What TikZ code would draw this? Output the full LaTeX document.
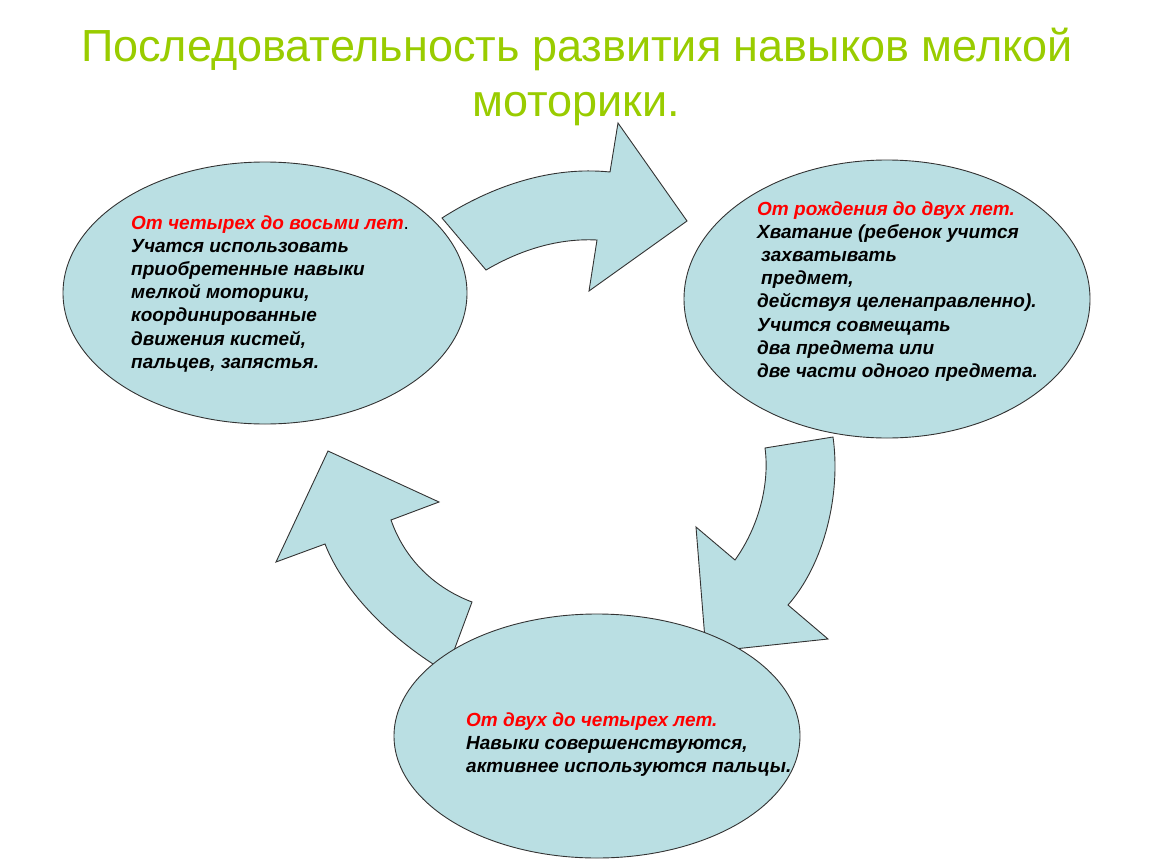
\documentclass[tikz,border=0pt]{standalone}
\usepackage{fontspec}
\usetikzlibrary{shapes.geometric}
\setmainfont{Liberation Sans}
\definecolor{fillblue}{RGB}{186,223,227}
\definecolor{titlegreen}{RGB}{153,204,0}
\definecolor{textred}{RGB}{255,0,0}
\tikzset{
  blob/.style={draw=black!80, line width=0.9pt, fill=fillblue, ellipse, inner sep=0pt, outer sep=0pt},
  bigarrow/.style={draw=black!80, line width=0.9pt, fill=fillblue, line join=miter},
  bodytext/.style={anchor=base west, inner sep=0pt, font=\fontsize{19}{23.2}\selectfont\bfseries\itshape},
  titletext/.style={anchor=base, inner sep=0pt, text=titlegreen, font=\fontsize{45}{55}\selectfont}
}
\begin{document}
\begin{tikzpicture}[x=1pt,y=-1pt]
\useasboundingbox (0,0) rectangle (1150,864);
% title
\node[titletext] (title1) at (577,62) {Последовательность развития навыков мелкой};
\node[titletext] (title2) at (576,117) {моторики.};
% arrows (drawn beneath the ellipses)
\draw[bigarrow] (442,218) .. controls (492,186) and (551,166) .. (610,172)
  -- (618,123) -- (687,221) -- (589,291) -- (597,240)
  .. controls (558,238) and (520,250) .. (486,270) -- cycle;
\draw[bigarrow] (765,448) -- (833,437) .. controls (841,493) and (825,563) .. (788,605)
  -- (828,639) -- (706,652) -- (696,527) -- (735,560)
  .. controls (758,528) and (770,485) .. (765,448) -- cycle;
\draw[bigarrow] (328,451) -- (439,502) -- (391,520)
  .. controls (405,560) and (435,588) .. (472,602) -- (446,672)
  .. controls (395,642) and (345,595) .. (325,544) -- (276,562) -- cycle;
% ellipses
\node[blob, minimum width=404pt, minimum height=262pt] (left) at (265,293) {};
\node[blob, minimum width=406pt, minimum height=278pt] (right) at (887,299) {};
\node[blob, minimum width=406pt, minimum height=244pt] (bottom) at (597,736) {};
% texts
\node[bodytext] (lefttext) at (131,229) {\parbox[t]{330pt}{\raggedright
  \textcolor{textred}{От четырех до восьми лет}{\normalfont.}\\
  Учатся использовать\\
  приобретенные навыки\\
  мелкой моторики,\\
  координированные\\
  движения кистей,\\
  пальцев,\ запястья.}};
\node[bodytext] (righttext) at (757,215) {\parbox[t]{330pt}{\raggedright
  \textcolor{textred}{От рождения до двух лет.}\\
  Хватание (ребенок учится\\
  \hspace*{4pt}захватывать\\
  \hspace*{4pt}предмет,\\
  действуя целенаправленно).\\
  Учится совмещать\\
  два предмета или\\
  две части одного предмета.}};
\node[bodytext] (bottomtext) at (466,726) {\parbox[t]{360pt}{\raggedright
  \textcolor{textred}{От двух до четырех лет.}\\
  Навыки совершенствуются,\\
  активнее используются пальцы.}};
\end{tikzpicture}
\end{document}
